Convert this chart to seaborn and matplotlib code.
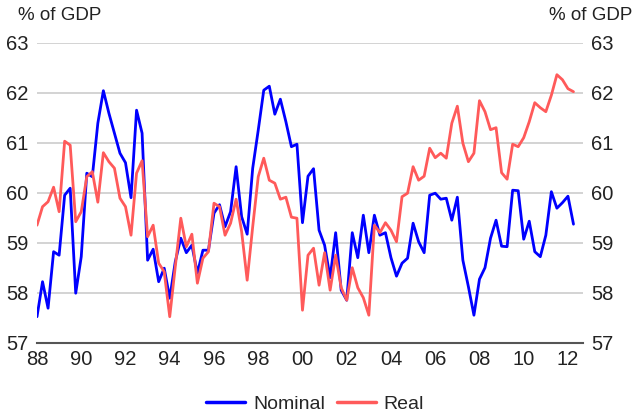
import numpy as np
import pandas as pd
import matplotlib
matplotlib.use("Agg")
import matplotlib.pyplot as plt
import seaborn as sns
from matplotlib.lines import Line2D

start_year = 1988
nominal = [57.52, 58.22, 57.69, 58.82, 58.75, 59.95, 60.09, 57.99, 58.72, 60.39,
           60.32, 61.39, 62.04, 61.59, 61.19, 60.79, 60.60, 59.90, 61.65, 61.19,
           58.65, 58.87, 58.22, 58.49, 57.89, 58.62, 59.09, 58.80, 58.95, 58.39,
           58.85, 58.85, 59.59, 59.76, 59.32, 59.62, 60.52, 59.52, 59.17, 60.49,
           61.25, 62.05, 62.13, 61.57, 61.87, 61.42, 60.92, 60.97, 59.40, 60.33,
           60.48, 59.25, 58.95, 58.30, 59.20, 58.05, 57.85, 59.20, 58.70, 59.55,
           58.80, 59.55, 59.15, 59.20, 58.70, 58.33, 58.59, 58.69, 59.39, 59.02,
           58.80, 59.95, 59.99, 59.87, 59.89, 59.45, 59.91, 58.65, 58.12, 57.55,
           58.27, 58.50, 59.09, 59.45, 58.93, 58.92, 60.05, 60.04, 59.07, 59.43,
           58.82, 58.72, 59.15, 60.02, 59.69, 59.80, 59.93, 59.37]
real = [59.35, 59.72, 59.82, 60.11, 59.62, 61.03, 60.95, 59.42, 59.62, 60.32,
        60.42, 59.81, 60.80, 60.62, 60.49, 59.89, 59.72, 59.15, 60.39, 60.64,
        59.12, 59.35, 58.59, 58.42, 57.52, 58.52, 59.49, 58.92, 59.17, 58.19,
        58.69, 58.82, 59.79, 59.72, 59.15, 59.39, 59.87, 59.22, 58.25, 59.32,
        60.32, 60.69, 60.25, 60.19, 59.87, 59.91, 59.51, 59.49, 57.65, 58.75,
        58.89, 58.15, 58.80, 58.05, 58.75, 58.10, 57.85, 58.50, 58.10, 57.90,
        57.55, 59.35, 59.20, 59.40, 59.25, 59.02, 59.92, 59.99, 60.52, 60.25,
        60.33, 60.89, 60.70, 60.79, 60.69, 61.39, 61.73, 60.99, 60.62, 60.79,
        61.84, 61.62, 61.26, 61.30, 60.40, 60.27, 60.97, 60.92, 61.10, 61.42,
        61.80, 61.70, 61.62, 61.95, 62.36, 62.26, 62.08, 62.02]
tick_years = list(range(1988, 2013, 2))
tick_labels = ["88", "90", "92", "94", "96", "98", "00", "02", "04", "06", "08", "10", "12"]
y_ticks = [57, 58, 59, 60, 61, 62, 63]
series_names = ["Nominal", "Real"]
unit_label = "% of GDP"

t = start_year + np.arange(len(nominal)) / 4.0
df = pd.DataFrame({
    "t": np.concatenate([t, t]),
    "value": nominal + real,
    "series": [series_names[0]] * len(nominal) + [series_names[1]] * len(real),
})

sns.set_theme(style="white")
plt.rcParams["font.family"] = ["Liberation Sans", "DejaVu Sans"]

fig = plt.figure(figsize=(6.34, 4.18), dpi=100)
ax = fig.add_axes([37 / 634, 1 - 342.7 / 418, 546 / 634, 300 / 418])

sns.lineplot(data=df, x="t", y="value", hue="series",
             palette={"Nominal": "#0000FF", "Real": "#FF5A5A"},
             linewidth=2.0, ax=ax, legend=False)

ax.set_xlim(1988, 2012.68)
ax.set_ylim(57, 63)
ax.set_xticks(tick_years)
ax.set_xticklabels(tick_labels)
ax.set_yticks(y_ticks)
ax.set_yticklabels([str(v) for v in y_ticks])
ax.set_xlabel("")
ax.set_ylabel("")
ax.yaxis.grid(True, color="#CCCCCC", linewidth=1.2)
ax.xaxis.grid(False)
ax.set_axisbelow(True)
for s in ["top", "left", "right"]:
    ax.spines[s].set_visible(False)
ax.spines["bottom"].set_color("#555555")
ax.spines["bottom"].set_linewidth(1.5)
ax.spines["bottom"].set_zorder(5)
ax.tick_params(axis="y", labelleft=True, labelright=True, length=0, pad=6,
               labelsize=14.5, colors="#222222")
ax.tick_params(axis="x", length=0, pad=5, labelsize=14.5, colors="#222222")

fig.text(18 / 634, 1 - 15 / 418, unit_label, fontsize=13.5, color="#222222",
         ha="left", va="center")
fig.text(632 / 634, 1 - 15 / 418, unit_label, fontsize=13.5, color="#222222",
         ha="right", va="center")

handles = [Line2D([], [], color="#0000FF", lw=2.5), Line2D([], [], color="#FF5A5A", lw=2.5)]
fig.legend(handles, series_names, loc="center", bbox_to_anchor=(0.497, 1 - 404 / 418),
           ncol=2, frameon=False, fontsize=14, handlelength=2.0, columnspacing=0.6,
           handletextpad=0.4)

fig.savefig("out.png", dpi=100)
